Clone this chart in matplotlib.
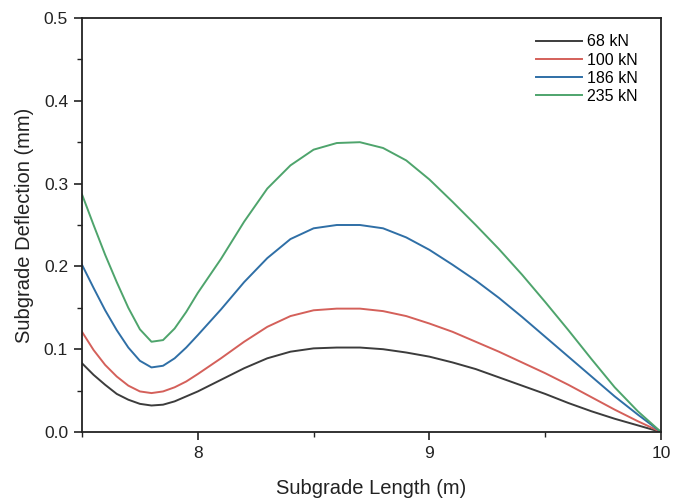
import matplotlib
matplotlib.use("Agg")
import matplotlib.pyplot as plt
from matplotlib.ticker import MultipleLocator, FormatStrFormatter

plt.rcParams['font.family'] = ['Liberation Sans', 'DejaVu Sans']

x = [7.5, 7.55, 7.6, 7.65, 7.7, 7.75, 7.8, 7.85, 7.9, 7.95, 8.0, 8.1, 8.2, 8.3, 8.4, 8.5,
     8.6, 8.7, 8.8, 8.9, 9.0, 9.1, 9.2, 9.3, 9.4, 9.5, 9.6, 9.7, 9.8, 9.9, 10.0]
labels = ["68 kN", "100 kN", "186 kN", "235 kN"]
y68 = [0.083, 0.069, 0.057, 0.046, 0.039, 0.034, 0.032, 0.033, 0.037, 0.043, 0.049, 0.063,
       0.077, 0.089, 0.097, 0.101, 0.102, 0.102, 0.100, 0.096, 0.091, 0.084, 0.076, 0.066,
       0.056, 0.046, 0.035, 0.025, 0.016, 0.008, 0.0]
y100 = [0.121, 0.099, 0.081, 0.067, 0.056, 0.049, 0.047, 0.049, 0.054, 0.061, 0.070, 0.089,
        0.109, 0.127, 0.140, 0.147, 0.149, 0.149, 0.146, 0.140, 0.131, 0.121, 0.109, 0.097,
        0.084, 0.071, 0.057, 0.042, 0.027, 0.013, 0.0]
y186 = [0.202, 0.174, 0.147, 0.123, 0.102, 0.086, 0.078, 0.080, 0.089, 0.102, 0.117, 0.148,
        0.181, 0.210, 0.233, 0.246, 0.250, 0.250, 0.246, 0.235, 0.220, 0.202, 0.183, 0.162,
        0.139, 0.115, 0.091, 0.067, 0.043, 0.021, 0.0]
y235 = [0.287, 0.250, 0.214, 0.181, 0.150, 0.124, 0.109, 0.111, 0.125, 0.145, 0.168, 0.209,
        0.254, 0.294, 0.322, 0.341, 0.349, 0.350, 0.343, 0.328, 0.305, 0.278, 0.250, 0.221,
        0.190, 0.157, 0.123, 0.088, 0.054, 0.025, 0.0]
colors = ["#3c3c3c", "#d4605a", "#2f6fa6", "#4ea46c"]

fig = plt.figure(figsize=(6.73, 4.99), dpi=100)
ax = fig.add_axes([82/673, 1-432/499, (661-82)/673, (432-18)/499])

for ys, lab, c in zip([y68, y100, y186, y235], labels, colors):
    ax.plot(x, ys, color=c, lw=1.4, label=lab, solid_joinstyle='round')

ax.set_xlim(7.5, 10)
ax.set_ylim(0, 0.5)
ax.xaxis.set_major_locator(MultipleLocator(1))
ax.xaxis.set_minor_locator(MultipleLocator(0.5))
ax.yaxis.set_major_locator(MultipleLocator(0.1))
ax.yaxis.set_minor_locator(MultipleLocator(0.05))
ax.yaxis.set_major_formatter(FormatStrFormatter('%.1f'))
ax.tick_params(which='major', direction='out', length=6, width=1.2, labelsize=12.5,
               colors='#222222', pad=4)
ax.tick_params(which='minor', direction='out', length=3.5, width=1.0, colors='#222222')
for s in ax.spines.values():
    s.set_linewidth(1.3)
    s.set_color('#222222')

ax.set_xlabel("Subgrade Length (m)", fontsize=14.5, color='#222222', labelpad=13)
ax.set_ylabel("Subgrade Deflection (mm)", fontsize=14.5, color='#222222', labelpad=7)

ax.legend(loc='upper right', frameon=False, fontsize=11.5, handlelength=2.9,
          handletextpad=0.3, labelspacing=0.2, bbox_to_anchor=(0.985, 0.995))

fig.savefig("out.png", dpi=100)
